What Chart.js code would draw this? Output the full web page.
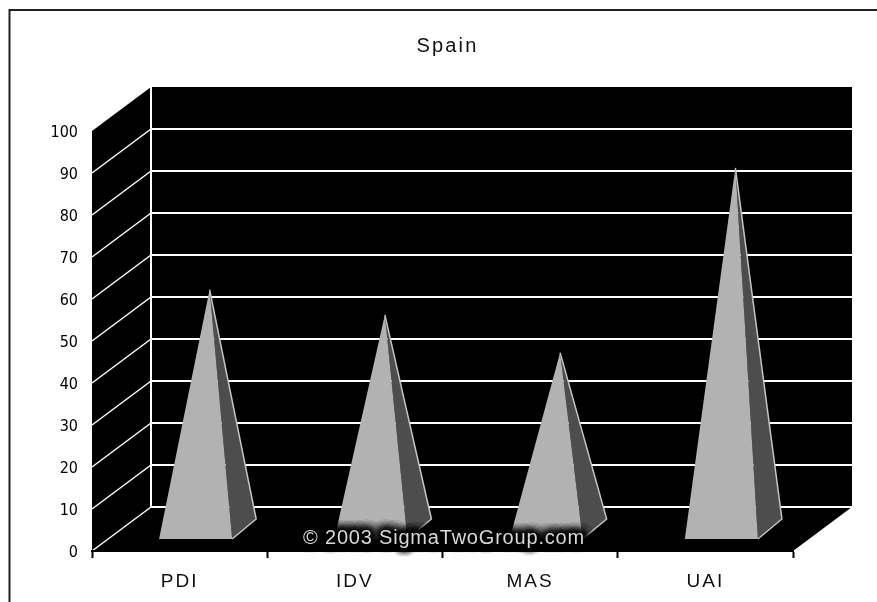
<!DOCTYPE html>
<html>
<head>
<meta charset="utf-8">
<title>Spain</title>
<script src="https://cdn.jsdelivr.net/npm/chart.js@4"></script>
<style>
  html, body { margin: 0; padding: 0; background: #fff; }
  #wrap { width: 877px; height: 602px; position: relative; }
  /* the reference is a soft, upscaled bitmap */
  #chart { filter: blur(0.4px); }
</style>
</head>
<body>
<div id="wrap"><canvas id="chart"></canvas></div>
<script>
const categories = ['PDI', 'IDV', 'MAS', 'UAI'];
const scores = [57, 51, 42, 86];
const yTicks = [0, 10, 20, 30, 40, 50, 60, 70, 80, 90, 100];
const titleText = 'Spain';
const watermark = '\u00A9 2003 SigmaTwoGroup.com';

// depth of the fake 3D box, in pixels
const DEPTH_X = 59;
const DEPTH_Y = 44;

// chart.js has no letter spacing option, so wrap the draw call
function spaced(target, method, px) {
  const original = target[method];
  target[method] = function (...args) {
    const ctx = this.ctx;
    const previous = ctx.letterSpacing;
    ctx.letterSpacing = px;
    original.apply(this, args);
    ctx.letterSpacing = previous;
  };
}

const box3d = {
  id: 'box3d',
  afterLayout(chart) {
    if (chart.$spaced) return;
    chart.$spaced = true;
    spaced(chart.titleBlock, 'draw', '2.2px');
    spaced(chart.scales.x, 'drawLabels', '2px');
  },
  beforeDraw(chart) {
    const { ctx, chartArea: a, scales: { y } } = chart;
    ctx.save();

    // outer frame, only top and left survive in the picture
    ctx.strokeStyle = '#222';
    ctx.lineWidth = 2;
    ctx.beginPath();
    ctx.moveTo(9.5, chart.height);
    ctx.lineTo(9.5, 10);
    ctx.lineTo(chart.width, 10);
    ctx.stroke();

    // black box: side wall, back wall, floor
    ctx.fillStyle = '#000';
    ctx.beginPath();
    ctx.moveTo(a.left, a.top);
    ctx.lineTo(a.left + DEPTH_X, a.top - DEPTH_Y);
    ctx.lineTo(a.right + DEPTH_X, a.top - DEPTH_Y);
    ctx.lineTo(a.right + DEPTH_X, a.bottom - DEPTH_Y);
    ctx.lineTo(a.right, a.bottom);
    ctx.lineTo(a.left, a.bottom);
    ctx.closePath();
    ctx.fill();

    // gridlines on side wall and back wall
    ctx.strokeStyle = '#fff';
    yTicks.forEach((v) => {
      if (v === 100) return;
      const py = y.getPixelForValue(v);
      ctx.lineWidth = 1.5;
      ctx.beginPath();
      ctx.moveTo(a.left, py);
      ctx.lineTo(a.left + DEPTH_X, py - DEPTH_Y);
      ctx.stroke();
      ctx.lineWidth = 2;
      ctx.beginPath();
      ctx.moveTo(a.left + DEPTH_X, py - DEPTH_Y);
      ctx.lineTo(a.right + DEPTH_X, py - DEPTH_Y);
      ctx.stroke();
    });
    ctx.lineWidth = 2;
    ctx.beginPath();
    ctx.moveTo(a.left + DEPTH_X, a.top - DEPTH_Y);
    ctx.lineTo(a.left + DEPTH_X, a.bottom - DEPTH_Y);
    ctx.stroke();
    ctx.restore();
  },
  afterDatasetsDraw(chart) {
    const { ctx, scales: { y } } = chart;
    const y0 = y.getPixelForValue(0);
    ctx.save();
    chart.getDatasetMeta(0).data.forEach((bar, i) => {
      const half = bar.width / 2;
      const cx = bar.x + 16;
      const frontY = y0 - 12;
      const fl = cx - half;
      const fr = cx + half;
      const backX = fr + 24;
      const backY = frontY - 20;
      const apexX = bar.x + 30;
      const apexY = y.getPixelForValue(scores[i]) - 22;

      ctx.fillStyle = '#4d4d4d';
      ctx.beginPath();
      ctx.moveTo(fr, frontY);
      ctx.lineTo(backX, backY);
      ctx.lineTo(apexX, apexY);
      ctx.closePath();
      ctx.fill();

      ctx.strokeStyle = '#c4c4c4';
      ctx.lineWidth = 1.5;
      ctx.beginPath();
      ctx.moveTo(fr, frontY);
      ctx.lineTo(backX, backY);
      ctx.lineTo(apexX, apexY);
      ctx.stroke();

      ctx.fillStyle = '#b2b2b2';
      ctx.beginPath();
      ctx.moveTo(fl, frontY);
      ctx.lineTo(fr, frontY);
      ctx.lineTo(apexX, apexY);
      ctx.closePath();
      ctx.fill();
    });
    ctx.restore();
  },
  afterDraw(chart) {
    const { ctx } = chart;
    ctx.save();
    ctx.font = '20px "Liberation Sans"';
    ctx.textAlign = 'center';
    ctx.textBaseline = 'middle';
    ctx.letterSpacing = '0.8px';
    ctx.shadowColor = '#000';
    ctx.shadowBlur = 10;
    ctx.fillStyle = '#000';
    for (let n = 0; n < 14; n++) ctx.fillText(watermark, 444, 538);
    ctx.shadowBlur = 0;
    ctx.fillStyle = '#d8d8d8';
    ctx.fillText(watermark, 444, 538);
    ctx.restore();
  },
};

new Chart(document.getElementById('chart'), {
  type: 'bar',
  data: {
    labels: categories,
    datasets: [{
      label: titleText,
      data: scores,
      backgroundColor: 'transparent',
      barPercentage: 1,
      categoryPercentage: 0.417,
    }],
  },
  plugins: [box3d],
  options: {
    responsive: true,
    maintainAspectRatio: false,
    animation: false,
    layout: { padding: { left: 18, top: 34 } },
    plugins: {
      legend: { display: false },
      tooltip: { enabled: false },
      title: {
        display: true,
        text: titleText,
        color: '#111',
        font: { family: '"Liberation Sans"', size: 20, weight: 'normal' },
        padding: { top: 0, bottom: 73 },
      },
    },
    scales: {
      x: {
        grid: { drawOnChartArea: false, color: '#000', tickColor: '#000', tickWidth: 2, tickLength: 7 },
        border: { color: '#000', width: 2 },
        ticks: {
          color: '#111',
          padding: 12,
          maxRotation: 0,
          font: { family: '"Liberation Sans"', size: 19 },
        },
        afterFit(scale) { scale.height = 51; },
      },
      y: {
        min: 0,
        max: 100,
        grid: { display: false },
        border: { display: false },
        afterBuildTicks(scale) { scale.ticks = yTicks.map((value) => ({ value })); },
        ticks: {
          color: '#000',
          padding: 6,
          labelOffset: 2,
          font: { family: '"DejaVu Sans Condensed", "Liberation Sans"', size: 16 },
        },
        afterFit(scale) { scale.width = 74; },
      },
      spacer: {
        position: 'right',
        grid: { display: false },
        border: { display: false },
        ticks: { display: false },
        afterFit(scale) { scale.width = 84; },
      },
    },
  },
});
</script>
</body>
</html>
